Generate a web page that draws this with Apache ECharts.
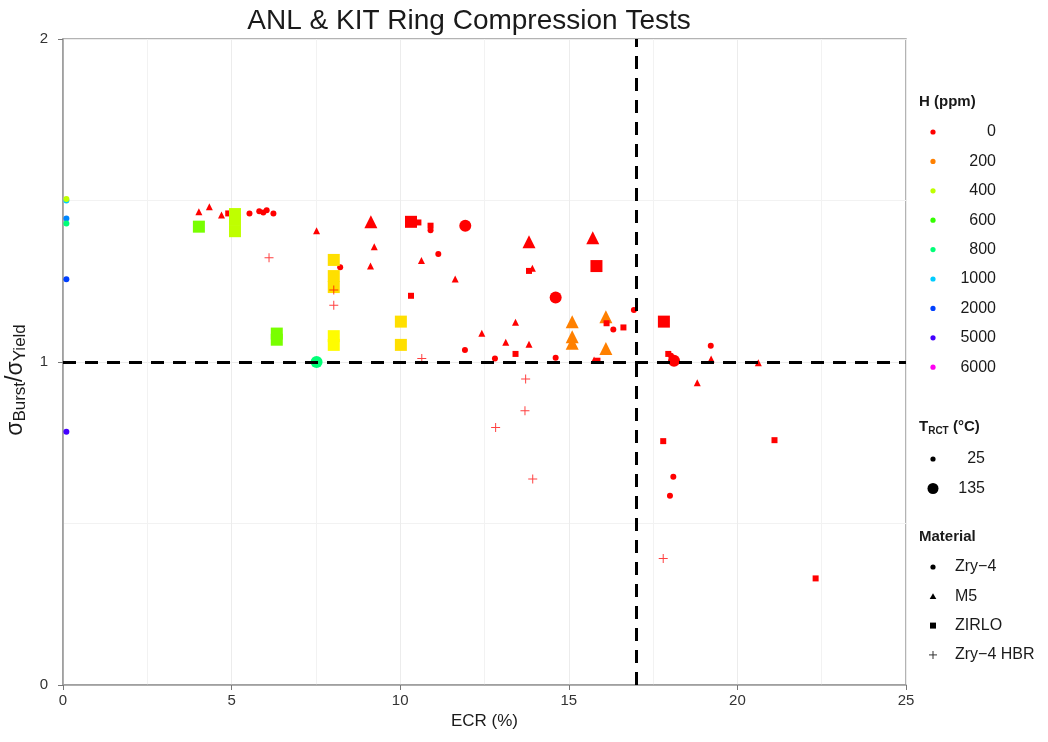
<!DOCTYPE html>
<html>
<head>
<meta charset="utf-8">
<script src="https://cdn.jsdelivr.net/npm/echarts@6/dist/echarts.min.js"></script>
<style>html,body{margin:0;padding:0;background:#fff}#c{width:1048px;height:742px}</style>
</head>
<body>
<div id="c"></div>
<script>
// Each point: [ECR %, sigmaBurst/sigmaYield, H ppm, T_RCT °C]
const zry4 = [
  [0.1,1.500,1000,25],[0.1,1.505,400,25],[0.1,1.444,1500,25],[0.1,1.429,800,25],[0.1,1.256,2000,25],[0.1,0.784,5000,25],
  [5.53,1.460,0,25],[5.82,1.467,0,25],[5.94,1.463,0,25],[6.04,1.470,0,25],[6.24,1.460,0,25],
  [8.22,1.293,0,25],[10.9,1.408,0,25],[11.13,1.334,0,25],[11.92,1.037,0,25],[12.81,1.011,0,25],
  [14.61,1.013,0,25],[16.32,1.101,0,25],[16.93,1.161,0,25],[18.03,1.019,0,25],[19.21,1.050,0,25],
  [18.10,0.645,0,25],[18.00,0.586,0,25],
  [11.93,1.422,0,135],[14.61,1.200,0,135],[18.12,1.004,0,135],[7.52,1.000,800,135]
];
const m5 = [
  [4.03,1.465,0,25],[4.34,1.481,0,25],[4.70,1.455,0,25],[7.52,1.406,0,25],[9.23,1.357,0,25],
  [9.12,1.297,0,25],[10.63,1.314,0,25],[11.63,1.257,0,25],[12.42,1.089,0,25],[13.13,1.061,0,25],
  [13.42,1.123,0,25],[13.82,1.055,0,25],[13.92,1.290,0,25],[15.75,1.006,0,25],[19.22,1.009,0,25],
  [18.81,0.936,0,25],[20.62,0.998,0,25],
  [9.13,1.434,0,135],[13.82,1.372,0,135],[15.71,1.385,0,135],
  [15.10,1.125,200,135],[15.10,1.078,200,135],[15.10,1.058,200,135],[16.10,1.140,200,135],[16.10,1.042,200,135]
];
const zirlo = [
  [4.90,1.460,0,25],[10.54,1.432,0,25],[10.32,1.205,0,25],[10.9,1.422,0,25],[13.82,1.282,0,25],[13.42,1.025,0,25],
  [15.85,1.004,0,25],[16.12,1.120,0,25],[16.62,1.107,0,25],[17.95,1.025,0,25],[17.80,0.755,0,25],
  [21.10,0.758,0,25],[22.32,0.330,0,25],
  [4.03,1.419,500,135],[5.10,1.458,400,135],[5.10,1.440,400,135],[5.10,1.405,400,135],
  [6.34,1.088,500,135],[6.34,1.069,500,135],[8.03,1.316,300,135],[8.03,1.266,300,135],[8.03,1.232,300,135],
  [8.03,1.080,330,135],[8.03,1.053,330,135],[10.02,1.125,300,135],[10.02,1.053,300,135],
  [10.32,1.434,0,135],[15.82,1.297,0,135],[17.82,1.125,0,135]
];
const zry4HBR = [
  [6.11,1.323,0,25],[8.03,1.223,0,25],[8.03,1.176,0,25],[10.64,1.011,0,25],[13.72,0.947,0,25],
  [13.70,0.849,0,25],[12.83,0.797,0,25],[13.93,0.638,0,25],[17.80,0.392,0,25]
];
const hLevels = [0,200,400,600,800,1000,2000,5000,6000];
const hHues   = [0,30,75,108,148,192,225,256,303];
const tLevels = [25,135];
const materials = ['Zry\u22124','M5','ZIRLO','Zry\u22124 HBR'];
const xTicks = [0,5,10,15,20,25];
const yTicks = [0,1,2];
const refX = 17, refY = 1;

function hueFor(h){
  for(let i=0;i<hLevels.length-1;i++){
    if(h<=hLevels[i+1]){const t=(h-hLevels[i])/(hLevels[i+1]-hLevels[i]);return hHues[i]+t*(hHues[i+1]-hHues[i]);}
  }
  return hHues[hHues.length-1];
}
function hsv(h){
  const c=1,x=c*(1-Math.abs((h/60)%2-1));let r,g,b;
  if(h<60){r=c;g=x;b=0}else if(h<120){r=x;g=c;b=0}else if(h<180){r=0;g=c;b=x}
  else if(h<240){r=0;g=x;b=c}else if(h<300){r=x;g=0;b=c}else{r=c;g=0;b=x}
  const f=v=>Math.round(v*255).toString(16).padStart(2,'0');
  return '#'+f(r)+f(g)+f(b);
}
const colorFor = h => hsv(hueFor(h));
const PLUS = 'path://M4,0h1v4h4v1h-4v4h-1v-4h-4v-1h4z';
const sizes = {circle:[6,12], triangle:[7,13], rect:[6,12], plus:[9,9]};
function mk(arr, sym){
  return arr.map(p=>({
    value:[p[0],p[1]],
    symbolSize: sizes[sym][p[3]>=100?1:0],
    itemStyle:{color: colorFor(p[2]), opacity: sym==='plus'?0.75:1}
  }));
}
const FF = 'Liberation Sans, Arial, sans-serif';
const series = [
  {name:materials[0], type:'scatter', symbol:'circle', data:mk(zry4,'circle')},
  {name:materials[1], type:'scatter', symbol:'triangle', data:mk(m5,'triangle')},
  {name:materials[2], type:'scatter', symbol:'rect', data:mk(zirlo,'rect')},
  {name:materials[3], type:'scatter', symbol:PLUS, data:mk(zry4HBR,'plus')}
].map(s=>Object.assign(s,{silent:true, z:3}));
series.push({type:'scatter', data:[], silent:true, z:4,
  markLine:{silent:true, symbol:'none', animation:false, label:{show:false},
    lineStyle:{color:'#000', width:3, type:[13,9]},
    data:[{xAxis:refX},{yAxis:refY}]}});

// Legend built as graphic elements
const g = [];
g.push({type:'text', x:469, y:21, style:{text:'ANL & KIT Ring Compression Tests', font:'28px '+FF, fill:'#1a1a1a', textAlign:'center', textVerticalAlign:'middle'}});
g.push({type:'text', x:919, y:102, style:{text:'H (ppm)', font:'bold 15px '+FF, fill:'#1a1a1a', textVerticalAlign:'middle'}});
hLevels.forEach((h,i)=>{
  const y = 132 + i*29.4;
  g.push({type:'circle', shape:{cx:933, cy:y, r:2.6}, style:{fill:colorFor(h)}});
  g.push({type:'text', x:996, y:y, style:{text:String(h), font:'16px '+FF, fill:'#1a1a1a', textAlign:'right', textVerticalAlign:'middle'}});
});
g.push({type:'text', x:919, y:427, style:{text:'{b|T}{s|RCT}{b| (°C)}', textVerticalAlign:'middle',
  rich:{b:{font:'bold 15px '+FF, fill:'#1a1a1a', lineHeight:18, verticalAlign:'middle'}, s:{font:'bold 10px '+FF, fill:'#1a1a1a', lineHeight:10, verticalAlign:'bottom'}}}});
tLevels.forEach((t,i)=>{
  const y = 459 + i*29.5;
  g.push({type:'circle', shape:{cx:933, cy:y, r: i?5.5:2.6}, style:{fill:'#000'}});
  g.push({type:'text', x:985, y:y, style:{text:String(t), font:'16px '+FF, fill:'#1a1a1a', textAlign:'right', textVerticalAlign:'middle'}});
});
g.push({type:'text', x:919, y:537, style:{text:'Material', font:'bold 15px '+FF, fill:'#1a1a1a', textVerticalAlign:'middle'}});
materials.forEach((m,i)=>{
  const y = 567 + i*29.3, cx = 933;
  if(i===0) g.push({type:'circle', shape:{cx:cx, cy:y, r:2.6}, style:{fill:'#000'}});
  if(i===1) g.push({type:'polygon', shape:{points:[[cx,y-3],[cx+3.3,y+2.6],[cx-3.3,y+2.6]]}, style:{fill:'#000'}});
  if(i===2) g.push({type:'rect', shape:{x:cx-3, y:y-3, width:6, height:6}, style:{fill:'#000'}});
  if(i===3){g.push({type:'rect', shape:{x:cx-4, y:y-0.5, width:8, height:1}, style:{fill:'#333'}});
            g.push({type:'rect', shape:{x:cx-0.5, y:y-4, width:1, height:8}, style:{fill:'#333'}});}
  g.push({type:'text', x:955, y:y, style:{text:m, font:'16px '+FF, fill:'#1a1a1a', textVerticalAlign:'middle'}});
});

const axisCommon = {
  axisLine:{show:true, onZero:false, lineStyle:{color:'#9a9a9a', width:1.5}},
  axisTick:{show:true, inside:false, length:5, lineStyle:{color:'#777'}},
  axisLabel:{color:'#333', fontSize:15, fontFamily:FF},
  splitLine:{show:true, lineStyle:{color:'#ececec', width:1}},
  minorTick:{show:false, splitNumber:2},
  minorSplitLine:{show:true, lineStyle:{color:'#f2f2f2', width:1}}
};
const option = {
  animation:false,
  textStyle:{fontFamily:FF},
  grid:{left:63, right:142, top:39, bottom:57, show:true, borderColor:'#9a9a9a', borderWidth:1.5,
        containLabel:false, outerBoundsMode:'none'},
  xAxis: Object.assign({type:'value', min:xTicks[0], max:xTicks[xTicks.length-1], interval:5,
    name:'ECR (%)', nameLocation:'middle', nameGap:23, nameTextStyle:{fontSize:17, color:'#1a1a1a', fontFamily:FF}}, axisCommon,
    {axisLabel:Object.assign({}, axisCommon.axisLabel, {margin:8})}),
  yAxis: Object.assign({type:'value', min:yTicks[0], max:yTicks[yTicks.length-1], interval:1,
    name:'{s|σ}{sub|Burst}{s|/σ}{sub|Yield}', nameLocation:'middle', nameGap:30, nameRotate:90,
    nameTextStyle:{color:'#1a1a1a', padding:[0,36,0,0], rich:{
      s:{fontSize:23, fontFamily:FF, color:'#1a1a1a', lineHeight:26, verticalAlign:'middle'},
      sub:{fontSize:17, fontFamily:FF, color:'#1a1a1a', lineHeight:17, verticalAlign:'bottom'}}}}, axisCommon,
    {axisLabel:Object.assign({}, axisCommon.axisLabel, {margin:15})}),
  graphic: g,
  series: series
};
const chart = echarts.init(document.getElementById('c'), null, {renderer:'canvas'});
chart.setOption(option);
</script>
</body>
</html>
